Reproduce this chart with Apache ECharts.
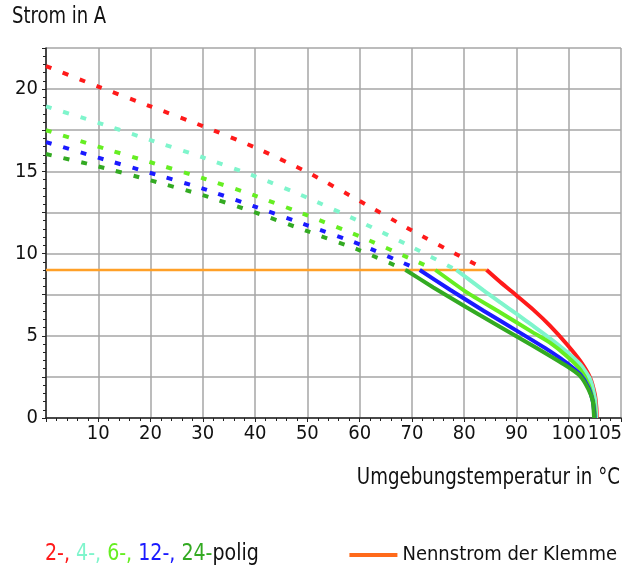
<!DOCTYPE html>
<html><head><meta charset="utf-8">
<script src="https://cdn.jsdelivr.net/npm/echarts@6/dist/echarts.min.js"></script>
<style>html,body{margin:0;padding:0;background:#fff}#c{width:634px;height:569px}</style>
</head><body><div id="c"></div>
<script>
const FONT = "'DejaVu Sans Condensed','Liberation Sans Narrow',sans-serif";
const xTickLabels = [10, 20, 30, 40, 50, 60, 70, 80, 90, 100];
const xEndLabel = [105];
const yTickLabels = [0, 5, 10, 15, 20];
const poleNames = ['2-polig', '4-polig', '6-polig', '12-polig', '24-polig'];
const poleColors = ['#ff1a1a', '#7ff5cc', '#66ee22', '#1a1aff', '#33aa22'];

// dashed part (above rated current) : [temperature, current]
const dashed2 = [[0,21.4],[10,20.15],[20,18.95],[30,17.75],[40,16.45],[50,14.95],[60,13.2],[70,11.4],[80,9.7],[84.3,9.0]];
const dashed4 = [[0,18.95],[10,17.95],[20,16.9],[30,15.85],[40,14.7],[50,13.4],[60,11.95],[70,10.4],[78.5,9.0]];
const dashed6 = [[0,17.5],[10,16.5],[20,15.55],[30,14.58],[40,13.52],[50,12.32],[60,11.05],[70,9.65],[74.5,9.0]];
const dashed12 = [[0,16.78],[10,15.83],[20,14.9],[30,13.95],[40,12.85],[50,11.72],[60,10.56],[70,9.2],[71.5,9.0]];
const dashed24 = [[0,16.05],[10,15.3],[20,14.45],[30,13.55],[40,12.5],[50,11.36],[60,10.2],[68.8,9.0]];

// solid part (derating below rated current)
const solid2 = [[84.3,9.0],[86.9,8.27],[90,7.45],[93.3,6.56],[96.4,5.62],[99.6,4.5],[102.2,3.47],[104.1,2.45],[105,1.43],[105.3,0.6],[105.35,0]];
const solid4 = [[78.5,9.0],[83.7,7.76],[86.9,7.03],[90.1,6.31],[93.2,5.6],[96.4,4.85],[99.6,4.03],[102.2,3.26],[104.1,2.35],[105,1.22],[105.2,0.5],[105.25,0]];
const solid6 = [[74.5,9.0],[80.5,7.64],[86.9,6.42],[93.2,5.19],[96.4,4.58],[99.6,3.77],[102.2,2.95],[103.8,2.03],[104.7,1.02],[105,0.4],[105.05,0]];
const solid12 = [[71.5,9.0],[77.3,7.8],[83.7,6.52],[90.1,5.3],[96.4,4.07],[99.6,3.36],[102.2,2.65],[103.8,1.83],[104.6,1.02],[104.9,0.3],[104.95,0]];
const solid24 = [[68.8,9.0],[74.1,7.94],[80.5,6.72],[86.9,5.54],[93.2,4.38],[99.6,3.16],[102.2,2.55],[103.8,1.73],[104.6,1.02],[104.8,0.3],[104.85,0]];

const nennstrom = [[0,9],[84.3,9]];

const dashedSets = [dashed2, dashed4, dashed6, dashed12, dashed24];
const solidSets = [solid2, solid4, solid6, solid12, solid24];

const series = [{
  name: 'Nennstrom der Klemme', type: 'line', data: nennstrom, symbol: 'none',
  lineStyle: { color: '#ffa028', width: 2.5 }, itemStyle: { color: '#ff6a1a' }, z: 2
}];
dashedSets.forEach((d, i) => series.push({
  name: poleNames[i], type: 'line', data: d, symbol: 'none', smooth: 0.2,
  lineStyle: { color: poleColors[i], width: 4, type: [6, 12], cap: 'butt' }, z: 3
}));
solidSets.forEach((d, i) => series.push({
  name: poleNames[i] + ' ', type: 'line', data: d, symbol: 'none', smooth: 0.2,
  lineStyle: { color: poleColors[i], width: 4 }, z: 3
}));

const chart = echarts.init(document.getElementById('c'));
chart.setOption({
  animation: false,
  textStyle: { fontFamily: FONT },
  grid: { left: 46, right: 13, top: 48, bottom: 151, containLabel: false },
  xAxis: [{
    type: 'value', min: 0, max: 110, interval: 10,
    axisLine: { show: true, lineStyle: { color: '#222', width: 1.5 } },
    axisTick: { show: true, length: 4, lineStyle: { color: '#222' } },
    minorTick: { show: true, splitNumber: 5, length: 3, lineStyle: { color: '#222' } },
    splitLine: { show: true, lineStyle: { color: '#a6a6a6', width: 1.5 } },
    axisLabel: { customValues: xTickLabels, color: '#111', fontSize: 20, fontFamily: FONT, margin: 6 }
  }, {
    type: 'value', min: 0, max: 110, position: 'bottom',
    axisLine: { show: false }, axisTick: { show: false }, splitLine: { show: false },
    axisLabel: {
      customValues: xEndLabel, hideOverlap: false, color: '#111', fontSize: 20, fontFamily: FONT, margin: 6,
      formatter: v => '{r|' + v + '}',
      rich: { r: { fontSize: 20, fontFamily: FONT, color: '#111', padding: [0, 0, 0, 20] } }
    }
  }],
  yAxis: {
    type: 'value', min: 0, max: 22.5, interval: 2.5,
    axisLine: { show: true, lineStyle: { color: '#222', width: 1.5 } },
    axisTick: { show: true, length: 4, lineStyle: { color: '#222' } },
    minorTick: { show: true, splitNumber: 5, length: 3, lineStyle: { color: '#222' } },
    splitLine: { show: true, lineStyle: { color: '#a6a6a6', width: 1.5 } },
    axisLabel: { customValues: yTickLabels, color: '#111', fontSize: 20, fontFamily: FONT, margin: 8 }
  },
  legend: {
    data: [{ name: 'Nennstrom der Klemme', itemStyle: { color: '#ff6a1a' } }],
    right: 12, top: 540, itemWidth: 48, itemHeight: 4, itemGap: 8,
    icon: 'rect',
    textStyle: { fontSize: 20, fontFamily: FONT, color: '#111' }
  },
  graphic: [
    { type: 'text', left: 12, top: 6, scaleX: 0.87, style: { text: 'Strom in A', fontSize: 23, fontFamily: FONT, fill: '#111' } },
    { type: 'text', right: 14, top: 467, scaleX: 0.88, originX: 606, style: { text: 'Umgebungstemperatur in °C', fontSize: 23, fontFamily: FONT, fill: '#111' } },
    { type: 'text', left: 45, top: 543, scaleX: 0.92, style: {
      text: '{a|2-,} {b|4-,} {c|6-,} {d|12-,} {e|24-}{f|polig}',
      rich: {
        a: { fill: poleColors[0], fontSize: 23, fontFamily: FONT },
        b: { fill: poleColors[1], fontSize: 23, fontFamily: FONT },
        c: { fill: poleColors[2], fontSize: 23, fontFamily: FONT },
        d: { fill: poleColors[3], fontSize: 23, fontFamily: FONT },
        e: { fill: poleColors[4], fontSize: 23, fontFamily: FONT },
        f: { fill: '#111', fontSize: 23, fontFamily: FONT }
      },
      fontSize: 23, fontFamily: FONT
    } }
  ],
  series: series
});
</script>
</body></html>
